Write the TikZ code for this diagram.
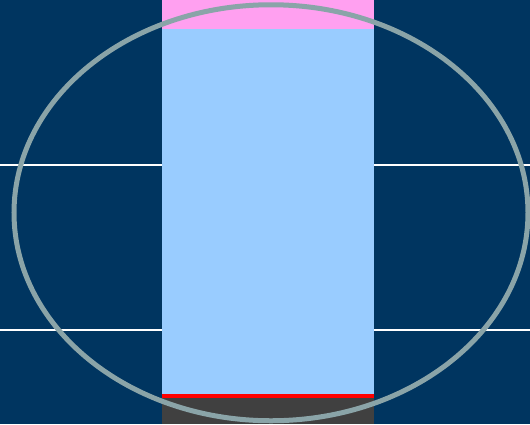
\documentclass[tikz,border=0pt]{standalone}
\definecolor{navy}{HTML}{003560}
\definecolor{stripblue}{HTML}{99CCFF}
\definecolor{pinkband}{HTML}{FFA0F0}
\definecolor{darkgray}{HTML}{404040}
\definecolor{ringgray}{HTML}{8AA4A8}
\begin{document}
\begin{tikzpicture}[x=1pt,y=-1pt]
\useasboundingbox (0,0) rectangle (530,424);
\fill[navy] (0,0) rectangle (530,424);
\fill[stripblue] (161.5,0) rectangle (374,424);
\fill[pinkband] (161.5,0) rectangle (374,29.3);
\fill[darkgray] (161.5,397.5) rectangle (374,424);
\fill[red] (161.5,393.5) rectangle (374,397.5);
\draw[white,line width=2pt] (0,165) -- (161.5,165) (374,165) -- (530,165);
\draw[white,line width=2pt] (0,330) -- (161.5,330) (374,330) -- (530,330);
\draw[ringgray,line width=5pt] (271,212.75) ellipse [x radius=257, y radius=208];
\end{tikzpicture}
\end{document}
